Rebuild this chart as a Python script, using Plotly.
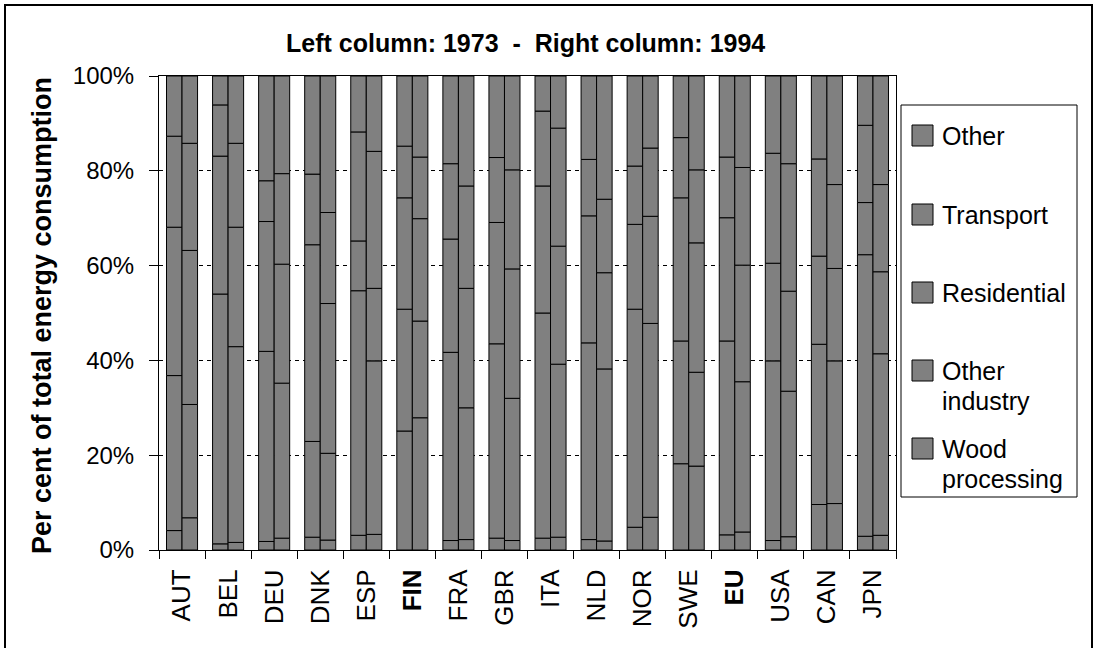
import plotly.graph_objects as go
import numpy as np

# Countries / regions on the category axis
countries = ["AUT", "BEL", "DEU", "DNK", "ESP", "FIN", "FRA", "GBR",
             "ITA", "NLD", "NOR", "SWE", "EU", "USA", "CAN", "JPN"]
bold_labels = ["FIN", "EU"]

# Sectors, bottom to top of each column
sectors = ["Wood processing", "Other industry", "Residential", "Transport", "Other"]
legend_labels = ["Wood<br>processing", "Other<br>industry", "Residential", "Transport", "Other"]

# Share of total energy consumption (%), 1973
wood_1973 = [4.1, 1.3, 1.8, 2.7, 3.1, 25.1, 2.0, 2.5, 2.5, 2.2, 4.8, 18.2, 3.2, 2.0, 9.6, 2.9]
industry_1973 = [32.7, 52.7, 40.1, 20.2, 51.6, 25.7, 39.7, 41.0, 47.5, 41.5, 46.0, 25.9, 40.9, 37.9, 33.8, 59.4]
residential_1973 = [31.3, 29.1, 27.4, 41.5, 10.5, 23.5, 23.9, 25.6, 26.8, 26.8, 17.9, 30.2, 26.0, 20.6, 18.6, 11.0]
transport_1973 = [19.2, 10.8, 8.6, 14.9, 23.0, 10.9, 15.9, 13.7, 15.8, 11.9, 12.3, 12.7, 12.8, 23.2, 20.5, 16.3]
other_1973 = [12.7, 6.1, 22.1, 20.7, 11.8, 14.8, 18.5, 17.2, 7.4, 17.6, 19.0, 13.0, 17.1, 16.3, 17.5, 10.4]

# Share of total energy consumption (%), 1994
wood_1994 = [6.8, 1.6, 2.5, 2.1, 3.3, 27.9, 2.2, 2.0, 2.7, 1.9, 6.9, 17.7, 3.8, 2.8, 9.8, 3.1]
industry_1994 = [23.9, 41.3, 32.7, 18.3, 36.6, 20.4, 27.8, 30.0, 36.5, 36.3, 40.9, 19.8, 31.7, 30.7, 30.1, 38.3]
residential_1994 = [32.5, 25.2, 25.1, 31.6, 15.3, 21.6, 25.2, 27.3, 24.9, 20.3, 22.6, 27.3, 24.6, 21.1, 19.5, 17.3]
transport_1994 = [22.6, 17.7, 19.1, 19.2, 28.9, 13.0, 21.6, 20.9, 24.9, 15.5, 14.4, 15.4, 20.6, 26.9, 17.7, 18.4]
other_1994 = [14.2, 14.2, 20.6, 28.8, 15.9, 17.1, 23.2, 19.8, 11.0, 26.0, 15.2, 19.8, 19.3, 18.5, 22.9, 22.9]

years = {
    1973: [wood_1973, industry_1973, residential_1973, transport_1973, other_1973],
    1994: [wood_1994, industry_1994, residential_1994, transport_1994, other_1994],
}

FONT = "Liberation Sans, Arial, sans-serif"
BAR_FILL = "#808080"

# Figure geometry in pixels
W, H = 1093, 648
ML, MR, MT, MB = 159, 197, 76, 98


def fx(x):
    return (x - ML) / (W - ML - MR)


def fy(y):
    return (H - MB - y) / (H - MT - MB)


fig = go.Figure()

bar_w = 0.337
offsets = {1973: -bar_w, 1994: 0.0}
for year, series in years.items():
    base = np.zeros(len(countries))
    for name, vals in zip(sectors, series):
        vals = np.asarray(vals, dtype=float)
        fig.add_trace(go.Bar(
            x=countries, y=vals, base=base.copy(),
            name=f"{name} {year}",
            width=bar_w, offset=offsets[year],
            marker=dict(color=BAR_FILL, line=dict(color="black", width=1)),
            showlegend=False,
        ))
        base += vals

tick_text = [f"<b>{c}</b>" if c in bold_labels else c for c in countries]

fig.update_layout(
    width=W, height=H,
    margin=dict(l=ML, r=MR, t=MT, b=MB, pad=0),
    barmode="overlay",
    paper_bgcolor="white", plot_bgcolor="white",
    font=dict(family=FONT, color="black"),
    xaxis=dict(
        type="category", categoryorder="array", categoryarray=countries,
        tickmode="array", tickvals=countries, ticktext=tick_text,
        tickson="boundaries", ticks="outside", ticklen=8, tickcolor="black",
        tickangle=-90, tickfont=dict(size=26, family=FONT, color="black"),
        ticklabelstandoff=8,
        showline=True, linecolor="black", linewidth=1, mirror=True,
        showgrid=False, range=[-0.5, len(countries) - 0.5],
    ),
    yaxis=dict(
        range=[0, 100], tickmode="array", tickvals=[0, 20, 40, 60, 80, 100],
        ticktext=["0%", "20%", "40%", "60%", "80%", "100%"],
        ticks="outside", ticklen=9, tickcolor="black",
        tickfont=dict(size=24, family=FONT, color="black"),
        ticklabelstandoff=10,
        showline=True, linecolor="black", linewidth=1, mirror=True,
        showgrid=True, gridcolor="black", gridwidth=1, griddash="4px,4px",
        zeroline=False,
    ),
)

annotations = [
    dict(text="<b>Left column: 1973  -  Right column: 1994</b>",
         x=fx(525), y=fy(43), xref="paper", yref="paper",
         xanchor="center", yanchor="middle", showarrow=False,
         font=dict(size=25, family=FONT, color="black")),
    dict(text="<b>Per cent of total energy consumption</b>",
         x=fx(42), y=fy(316), xref="paper", yref="paper",
         xanchor="center", yanchor="middle", textangle=-90, showarrow=False,
         font=dict(size=27, family=FONT, color="black")),
]

shapes = [
    # outer chart frame
    dict(type="rect", xref="paper", yref="paper",
         x0=fx(5), x1=fx(1092), y0=fy(5), y1=fy(652),
         line=dict(color="black", width=2), fillcolor="rgba(0,0,0,0)", layer="above"),
    # legend frame
    dict(type="rect", xref="paper", yref="paper",
         x0=fx(901), x1=fx(1077), y0=fy(105), y1=fy(497),
         line=dict(color="black", width=1), fillcolor="white"),
]

# Legend: top entry is the top segment of the columns
item_tops = [125, 204, 282, 360, 438]
line_step = 30
for top, label in zip(item_tops, legend_labels[::-1]):
    shapes.append(dict(type="rect", xref="paper", yref="paper",
                       x0=fx(912), x1=fx(933), y0=fy(top), y1=fy(top + 21),
                       line=dict(color="black", width=1), fillcolor=BAR_FILL))
    for k, line in enumerate(label.split("<br>")):
        annotations.append(dict(
            text=line, x=fx(940), y=fy(top + 11 + k * line_step),
            xref="paper", yref="paper",
            xanchor="left", yanchor="middle", align="left", showarrow=False,
            font=dict(size=25, family=FONT, color="black")))

fig.update_layout(annotations=annotations, shapes=shapes)

fig.write_html("out.html")
